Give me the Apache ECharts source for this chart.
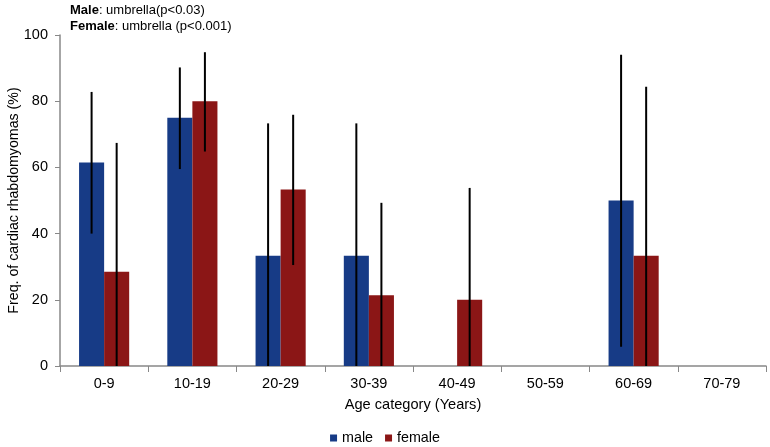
<!DOCTYPE html>
<html><head><meta charset="utf-8">
<script src="https://cdn.jsdelivr.net/npm/echarts@6/dist/echarts.min.js"></script>
<style>html,body{margin:0;padding:0;background:#fff}#c{width:770px;height:447px}</style>
</head><body><div id="c"></div>
<script>
const categories = ['0-9','10-19','20-29','30-39','40-49','50-59','60-69','70-79'];
const maleValues = [61.5, 75, 33.3, 33.3, 0, 0, 50, 0];
const femaleValues = [28.5, 80, 53.3, 21.4, 20, 0, 33.3, 0];
const maleLow = [40, 59.5, 0, 0, null, null, 5.8, null];
const maleHigh = [82.8, 90.2, 73.3, 73.3, null, null, 94, null];
const femaleLow = [0, 64.8, 30.5, 0, 0, null, 0, null];
const femaleHigh = [67.4, 94.8, 75.9, 49.3, 53.8, null, 84.4, null];
const yTicks = [0, 20, 40, 60, 80, 100];

const chart = echarts.init(document.getElementById('c'));
const FONT = 'Liberation Sans, Arial, sans-serif';

function errSeries(name, low, high, side) {
  const data = [];
  low.forEach((l, i) => { if (l !== null && high[i] !== null) data.push([i, l, high[i]]); });
  return {
    type: 'custom', name: name + '_err', z: 10, silent: true,
    data: data,
    renderItem: function (params, api) {
      const i = api.value(0);
      const p1 = api.coord([i, api.value(1)]);
      const p2 = api.coord([i, api.value(2)]);
      const band = api.size([1, 0])[0];
      const dx = side * band * 0.142;
      return {
        type: 'line',
        shape: { x1: p1[0] + dx, y1: p1[1], x2: p2[0] + dx, y2: p2[1] },
        style: { stroke: '#000', lineWidth: 2 }
      };
    }
  };
}

chart.setOption({
  animation: false,
  backgroundColor: '#fff',
  title: {
    left: 65, top: -3,
    text: '{b|Male}: umbrella(p<0.03)\n{b|Female}: umbrella (p<0.001)',
    textStyle: {
      fontFamily: FONT, fontSize: 13, fontWeight: 'normal', color: '#000', lineHeight: 16,
      rich: { b: { fontFamily: FONT, fontSize: 13, fontWeight: 'bold', color: '#000', lineHeight: 16 } }
    }
  },
  legend: {
    bottom: -3, left: 'center',
    itemWidth: 7, itemHeight: 7, itemGap: 12,
    icon: 'rect',
    data: ['male', 'female'],
    textStyle: { fontFamily: FONT, fontSize: 14.3, color: '#000' }
  },
  grid: { left: 60, right: 4, top: 35, bottom: 81, containLabel: false, outerBoundsMode: 'none' },
  xAxis: {
    type: 'category', data: categories,
    name: 'Age category (Years)', nameLocation: 'middle', nameGap: 31,
    nameMoveOverlap: false,
    nameTextStyle: { fontFamily: FONT, fontSize: 14.6, color: '#000' },
    axisLine: { lineStyle: { color: '#888', width: 1.5 } },
    axisTick: { show: true, alignWithLabel: false, length: 6, lineStyle: { color: '#888' } },
    axisLabel: { fontFamily: FONT, fontSize: 14.5, color: '#000', margin: 10 }
  },
  yAxis: {
    type: 'value', min: 0, max: 100, interval: 20,
    name: 'Freq. of cardiac rhabdomyomas (%)', nameLocation: 'middle', nameGap: 39, nameRotate: 90,
    nameMoveOverlap: false,
    nameTextStyle: { fontFamily: FONT, fontSize: 14.2, color: '#000' },
    axisLine: { show: true, lineStyle: { color: '#888', width: 1.5 } },
    axisTick: { show: true, length: 5, lineStyle: { color: '#888' } },
    splitLine: { show: false },
    axisLabel: { fontFamily: FONT, fontSize: 14.5, color: '#000', margin: 12,
      formatter: v => yTicks.includes(v) ? String(v) : '' }
  },
  series: [
    { name: 'male', type: 'bar', data: maleValues, barWidth: '28.4%', barGap: '0%',
      itemStyle: { color: '#173B86' } },
    { name: 'female', type: 'bar', data: femaleValues, barWidth: '28.4%', barGap: '0%',
      itemStyle: { color: '#8B1616' } },
    errSeries('male', maleLow, maleHigh, -1),
    errSeries('female', femaleLow, femaleHigh, 1)
  ]
});
</script></body></html>
